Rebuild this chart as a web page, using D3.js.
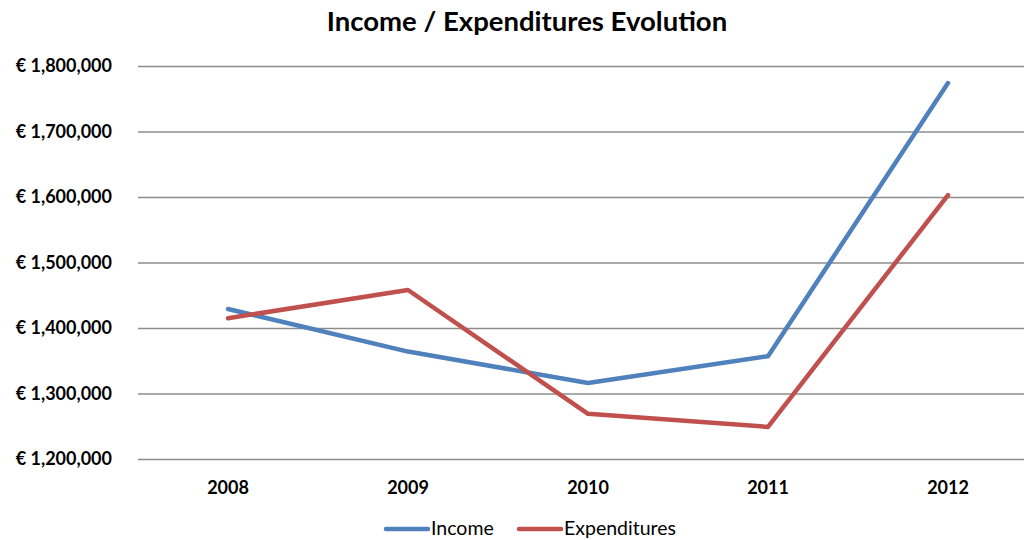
<!DOCTYPE html>
<html>
<head>
<meta charset="utf-8">
<script src="https://cdn.jsdelivr.net/npm/d3@7"></script>
<style>
  body { margin: 0; background: #fff; }
  text { font-family: Lato, "Open Sans", sans-serif; }
</style>
</head>
<body>
<div id="chart"></div>
<script>
// chart data
var years = ["2008", "2009", "2010", "2011", "2012"];
var income = [1429000, 1364000, 1316000, 1357000, 1774000];
var expenditures = [1415000, 1458000, 1269000, 1249000, 1603000];
var yTicks = [1200000, 1300000, 1400000, 1500000, 1600000, 1700000, 1800000];

var svgWidth = 1024;
var svgHeight = 540;

var margin = { top: 66, right: -14, bottom: 81, left: 138 };
var width = svgWidth - margin.left - margin.right;
var height = svgHeight - margin.top - margin.bottom;

var svg = d3.select("#chart").append("svg")
  .attr("width", svgWidth)
  .attr("height", svgHeight);

var chartGroup = svg.append("g")
  .attr("transform", `translate(${margin.left}, ${margin.top})`);

var xScale = d3.scaleBand()
  .domain(years)
  .range([0, width]);

var yScale = d3.scaleLinear()
  .domain([1200000, 1800000])
  .range([height, 0]);

// gridlines
var leftAxis = d3.axisLeft(yScale)
  .tickValues(yTicks)
  .tickSize(-width)
  .tickPadding(26)
  .tickFormat(d => "€ " + d3.format(",")(d));

var yAxis = chartGroup.append("g").call(leftAxis);
yAxis.select(".domain").remove();
yAxis.selectAll(".tick line")
  .attr("stroke", "#8c8c8c")
  .attr("stroke-width", 1.3);
yAxis.selectAll(".tick text")
  .attr("fill", "#000")
  .attr("font-size", "18px")
  .attr("font-weight", "bold");

var bottomAxis = d3.axisBottom(xScale).tickSize(0).tickPadding(22);
var xAxis = chartGroup.append("g")
  .attr("transform", `translate(0, ${height})`)
  .call(bottomAxis);
xAxis.select(".domain").remove();
xAxis.selectAll(".tick text")
  .attr("fill", "#000")
  .attr("font-size", "18px")
  .attr("font-weight", "bold");

var line = d3.line()
  .x((d, i) => xScale(years[i]) + xScale.bandwidth() / 2)
  .y(d => yScale(d));

var series = [
  { name: "Income", values: income, color: "#4f81bd" },
  { name: "Expenditures", values: expenditures, color: "#c0504d" }
];

series.forEach(function(s) {
  chartGroup.append("path")
    .datum(s.values)
    .attr("d", line)
    .attr("fill", "none")
    .attr("stroke", s.color)
    .attr("stroke-width", 4.5)
    .attr("stroke-linejoin", "round")
    .attr("stroke-linecap", "round");
});

// title
svg.append("text")
  .attr("x", 527)
  .attr("y", 31)
  .attr("text-anchor", "middle")
  .attr("font-size", "27.5px")
  .attr("font-weight", "bold")
  .text("Income / Expenditures Evolution");

// legend
var legendX = [386, 519];
var legend = svg.selectAll(".legend")
  .data(series)
  .enter()
  .append("g")
  .attr("transform", (d, i) => `translate(${legendX[i]}, 529)`);

legend.append("line")
  .attr("x1", 0).attr("x2", 42)
  .attr("stroke", d => d.color)
  .attr("stroke-width", 4.5)
  .attr("stroke-linecap", "round");

legend.append("text")
  .attr("x", 45)
  .attr("y", 6)
  .attr("font-size", "19.5px")
  .text(d => d.name);
</script>
</body>
</html>
